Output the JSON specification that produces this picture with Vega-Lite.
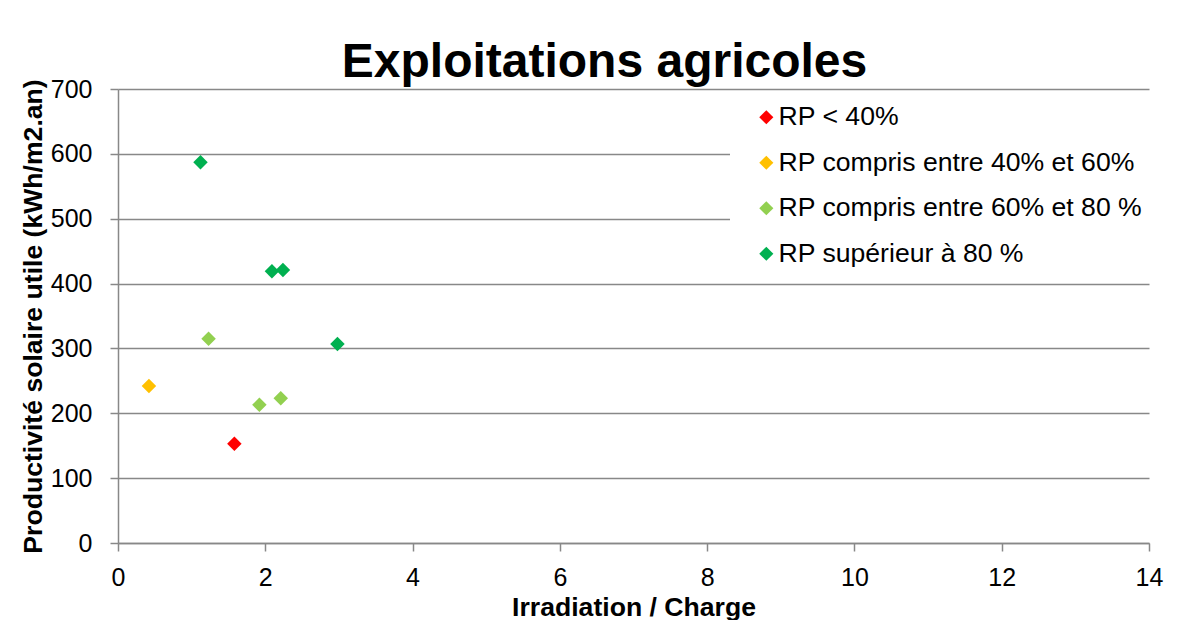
{
  "$schema": "https://vega.github.io/schema/vega-lite/v6.json",
  "width": 1031,
  "height": 454,
  "autosize": {"type": "none"},
  "padding": {"left": 118, "top": 89, "right": 37, "bottom": 77},
  "background": "white",
  "title": {
    "text": "Exploitations agricoles",
    "font": "Liberation Sans",
    "fontSize": 48,
    "fontWeight": "bold",
    "color": "black",
    "anchor": "middle",
    "dx": -29,
    "baseline": "alphabetic",
    "offset": -48
  },
  "data": {
    "values": [
      {"ratio": 1.58, "prod": 153, "cat": "RP < 40%"},
      {"ratio": 0.42, "prod": 242, "cat": "RP compris entre 40% et 60%"},
      {"ratio": 1.23, "prod": 315, "cat": "RP compris entre 60% et 80 %"},
      {"ratio": 1.92, "prod": 213, "cat": "RP compris entre 60% et 80 %"},
      {"ratio": 2.21, "prod": 223, "cat": "RP compris entre 60% et 80 %"},
      {"ratio": 1.12, "prod": 587, "cat": "RP supérieur à 80 %"},
      {"ratio": 2.09, "prod": 419, "cat": "RP supérieur à 80 %"},
      {"ratio": 2.24, "prod": 421, "cat": "RP supérieur à 80 %"},
      {"ratio": 2.98, "prod": 307, "cat": "RP supérieur à 80 %"}
    ]
  },
  "mark": {"type": "point", "shape": "diamond", "filled": true, "opacity": 1, "size": 210},
  "encoding": {
    "x": {
      "field": "ratio",
      "type": "quantitative",
      "scale": {"domain": [0, 14], "nice": false, "zero": true},
      "axis": {
        "title": "Irradiation / Charge",
        "values": [0, 2, 4, 6, 8, 10, 12, 14],
        "grid": false,
        "tickSize": 8,
        "labelPadding": 14,
        "labelFlush": false,
        "titleBaseline": "alphabetic",
        "titleY": 72
      }
    },
    "y": {
      "field": "prod",
      "type": "quantitative",
      "scale": {"domain": [0, 700], "nice": false},
      "axis": {
        "title": "Productivité solaire utile (kWh/m2.an)",
        "values": [0, 100, 200, 300, 400, 500, 600, 700],
        "grid": true,
        "tickSize": 8,
        "labelPadding": 18,
        "labelFlush": false,
        "titleBaseline": "alphabetic",
        "titleX": -77,
        "titleY": 227,
        "titleAngle": -90
      }
    },
    "color": {
      "field": "cat",
      "type": "nominal",
      "scale": {
        "domain": ["RP < 40%", "RP compris entre 40% et 60%", "RP compris entre 60% et 80 %", "RP supérieur à 80 %"],
        "range": ["#FF0000", "#FFC000", "#92D050", "#00B050"]
      },
      "legend": {
        "title": null,
        "orient": "none",
        "legendX": 612,
        "legendY": 5,
        "fillColor": "white",
        "padding": 10,
        "symbolType": "diamond",
        "symbolSize": 200,
        "symbolOffset": 13,
        "labelOffset": -1,
        "labelFont": "Liberation Sans",
        "labelFontSize": 26.6,
        "labelColor": "black",
        "labelLimit": 500,
        "rowPadding": 18.5
      }
    }
  },
  "config": {
    "view": {"stroke": null},
    "axis": {
      "labelFont": "Liberation Sans",
      "labelFontSize": 25,
      "labelColor": "black",
      "titleFont": "Liberation Sans",
      "titleFontSize": 26.6,
      "titleFontWeight": "bold",
      "titleColor": "black",
      "domainColor": "#888888",
      "domainWidth": 1.5,
      "tickColor": "#888888",
      "tickWidth": 1.5,
      "gridColor": "#888888",
      "gridWidth": 1.5,
      "gridOpacity": 1
    }
  }
}
